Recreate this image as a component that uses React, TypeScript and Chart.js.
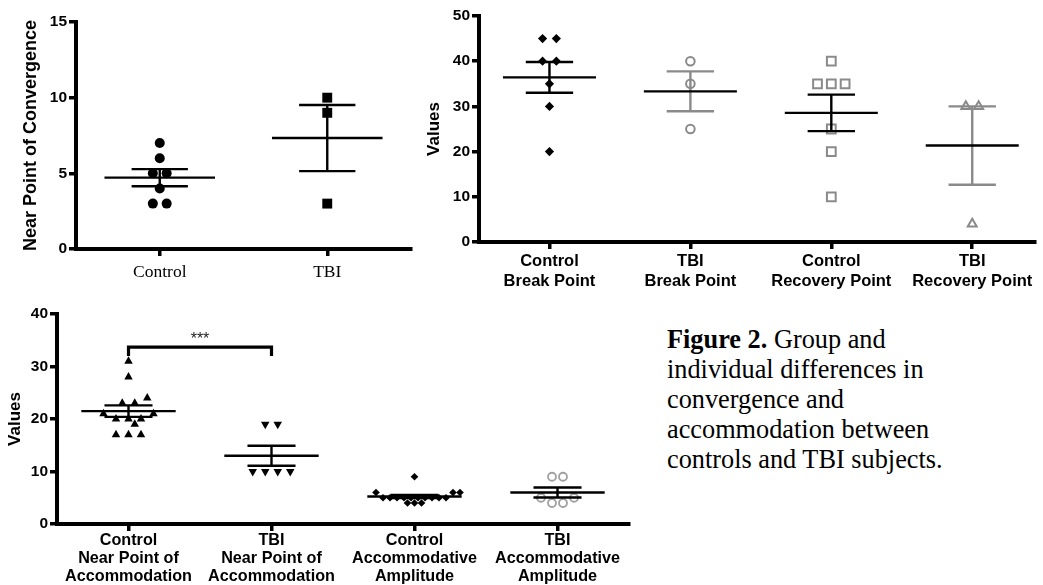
import React, { useEffect, useRef } from 'react';
import { Chart, registerables } from 'chart.js';

Chart.register(...registerables);

const SANS = '"Liberation Sans", Arial, Helvetica, sans-serif';
const SERIF = '"Liberation Serif", "Times New Roman", Times, serif';
const GRAY = '#8a8a8a';
const LIGHT_GRAY = '#a0a0a0';
const BLACK = '#000000';

// ---------- Panel A: Near point of convergence ----------
const npcCategories = ['Control', 'TBI'];
const npcControl = [7, 6, 5, 5, 4, 3, 3];
const npcTBI = [10, 9, 3];
const npcTicks = [0, 5, 10, 15];

// ---------- Panel B: break / recovery points ----------
const vergenceCategories = [
  ['Control', 'Break Point'],
  ['TBI', 'Break Point'],
  ['Control', 'Recovery Point'],
  ['TBI', 'Recovery Point'],
];
const controlBreakPoint = [45, 45, 40, 40, 35, 30, 20];
const tbiBreakPoint = [40, 35, 25];
const controlRecoveryPoint = [40, 35, 35, 35, 25, 20, 10];
const tbiRecoveryPoint = [30, 30, 4];
const vergenceTicks = [0, 10, 20, 30, 40, 50];

// ---------- Panel C: accommodation ----------
const accommodationCategories = [
  ['Control', 'Near Point of', 'Accommodation'],
  ['TBI', 'Near Point of', 'Accommodation'],
  ['Control', 'Accommodative', 'Amplitude'],
  ['TBI', 'Accommodative', 'Amplitude'],
];
const controlNPA = [31, 28, 24, 23, 23, 21, 21, 20, 20, 20, 19, 17, 17, 17];
const tbiNPA = [19, 19, 10, 10, 10, 10];
const controlAA = [9, 6, 6, 6, 5, 5, 5, 5, 5, 5, 5, 5, 5, 5, 4, 4, 4];
const tbiAA = [9, 9, 5, 5, 4, 4];
const accommodationTicks = [0, 10, 20, 30, 40];
const npaSignificance = { from: 0, to: 1, label: '***', top: 33.7, legEnd: 32 };

// Column scatter layout (GraphPad-like): largest tied groups first, centred;
// a group that would overlap lower-valued points is pushed sideways.
function beeswarm(
  values: number[],
  cat: number,
  stepPx: number,
  dPx: number,
  pxPerX: number,
  pxPerY: number
) {
  const counts = new Map<number, number>();
  values.forEach((v) => counts.set(v, (counts.get(v) || 0) + 1));
  const keys = Array.from(counts.keys()).sort((a, b) => {
    const c = (counts.get(b) || 0) - (counts.get(a) || 0);
    return c !== 0 ? c : a - b;
  });
  const placed: { v: number; off: number }[] = [];
  const collides = (v: number, off: number, pool: { v: number; off: number }[]) =>
    pool.some((p) => {
      const dx = off - p.off;
      const dy = (v - p.v) * pxPerY;
      return dx * dx + dy * dy < dPx * dPx - 0.01;
    });
  const offsets = new Map<number, number[]>();
  keys.forEach((v) => {
    const k = counts.get(v) || 1;
    const lower = placed.filter((p) => p.v < v);
    const centred = Array.from({ length: k }, (_, i) => (i - (k - 1) / 2) * stepPx);
    let chosen: number[] = [];
    if (!centred.some((o) => collides(v, o, lower))) {
      chosen = centred;
    } else {
      const h = stepPx / 2;
      const own: { v: number; off: number }[] = [];
      for (let i = 0; i < k; i++) {
        for (let j = 0; j < 400; j++) {
          const m = Math.ceil(j / 2);
          const o = (j % 2 === 1 ? 1 : -1) * m * h;
          if (!collides(v, o, lower) && !collides(v, o, own)) {
            own.push({ v, off: o });
            chosen.push(o);
            break;
          }
        }
      }
    }
    chosen.forEach((o) => placed.push({ v, off: o }));
    offsets.set(v, chosen.slice());
  });
  return values.map((v) => {
    const list = offsets.get(v) || [0];
    const o = list.shift() || 0;
    return { x: cat + o / pxPerX, y: v };
  });
}

function meanSem(values: number[]) {
  const n = values.length;
  const mean = values.reduce((a, b) => a + b, 0) / n;
  const sd = Math.sqrt(values.reduce((a, b) => a + (b - mean) ** 2, 0) / (n - 1));
  return { mean, sem: sd / Math.sqrt(n) };
}

type Group = {
  values: number[];
  cat: number;
  step: number;
  d: number;
  style: string;
  radius: number;
  rotation?: number;
  fill: string;
  stroke: string;
  borderWidth: number;
  errColor: string;
};

type Panel = {
  left: number;
  top: number;
  w: number;
  h: number;
  yAxisW: number;
  padTop: number;
  padRight: number;
  xAxisH: number;
  xMax: number;
  pxPerX: number;
  pxPerY: number;
  yTicks: number[];
  labels: (string | string[])[];
  xFont: any;
  xPad: number;
  title: string;
  titleX: number;
  titleFont: string;
  groups: Group[];
  bracket?: typeof npaSignificance;
};

function buildConfig(p: Panel): any {
  const errPlugin = {
    id: 'errbars',
    afterDatasetsDraw(chart: any) {
      const { ctx } = chart;
      const xs = chart.scales.x;
      const ys = chart.scales.y;
      p.groups.forEach((g) => {
        const { mean, sem } = meanSem(g.values);
        const cx = xs.getPixelForValue(g.cat);
        const hm = xs.getPixelForValue(g.cat + 0.33) - cx;
        const hc = xs.getPixelForValue(g.cat + 0.168) - cx;
        const ym = ys.getPixelForValue(mean);
        const yh = ys.getPixelForValue(mean + sem);
        const yl = ys.getPixelForValue(mean - sem);
        ctx.save();
        ctx.lineWidth = 2.4;
        ctx.lineCap = 'butt';
        ctx.strokeStyle = g.errColor;
        ctx.beginPath();
        ctx.moveTo(cx, yh);
        ctx.lineTo(cx, yl);
        ctx.moveTo(cx - hc, yh);
        ctx.lineTo(cx + hc, yh);
        ctx.moveTo(cx - hc, yl);
        ctx.lineTo(cx + hc, yl);
        ctx.stroke();
        ctx.strokeStyle = BLACK;
        ctx.beginPath();
        ctx.moveTo(cx - hm, ym);
        ctx.lineTo(cx + hm, ym);
        ctx.stroke();
        ctx.restore();
      });
      if (p.bracket) {
        const b = p.bracket;
        const x1 = xs.getPixelForValue(b.from);
        const x2 = xs.getPixelForValue(b.to);
        const yt = ys.getPixelForValue(b.top);
        const yb = ys.getPixelForValue(b.legEnd);
        ctx.save();
        ctx.strokeStyle = BLACK;
        ctx.lineWidth = 3.2;
        ctx.lineJoin = 'miter';
        ctx.beginPath();
        ctx.moveTo(x1, yb);
        ctx.lineTo(x1, yt);
        ctx.lineTo(x2, yt);
        ctx.lineTo(x2, yb);
        ctx.stroke();
        ctx.fillStyle = '#222';
        ctx.font = `16px ${SANS}`;
        ctx.textAlign = 'center';
        ctx.textBaseline = 'alphabetic';
        ctx.fillText(b.label, (x1 + x2) / 2, yt - 3);
        ctx.restore();
      }
    },
  };
  const titlePlugin = {
    id: 'ytitle',
    afterDraw(chart: any) {
      const { ctx, chartArea } = chart;
      ctx.save();
      ctx.translate(p.titleX, (chartArea.top + chartArea.bottom) / 2);
      ctx.rotate(-Math.PI / 2);
      ctx.font = p.titleFont;
      ctx.fillStyle = BLACK;
      ctx.textAlign = 'center';
      ctx.textBaseline = 'middle';
      ctx.fillText(p.title, 0, 0);
      ctx.restore();
    },
  };
  return {
    type: 'scatter',
    data: {
      datasets: p.groups.map((g) => ({
        data: beeswarm(g.values, g.cat, g.step, g.d, p.pxPerX, p.pxPerY),
        pointStyle: g.style,
        pointRadius: g.radius,
        pointHoverRadius: g.radius,
        pointRotation: g.rotation || 0,
        backgroundColor: g.fill,
        borderColor: g.stroke,
        borderWidth: g.borderWidth,
      })),
    },
    options: {
      responsive: false,
      animation: false,
      events: [],
      layout: { padding: { top: p.padTop, right: p.padRight, left: 0, bottom: 0 } },
      plugins: { legend: { display: false }, tooltip: { enabled: false } },
      scales: {
        x: {
          type: 'linear',
          min: -0.5,
          max: p.xMax,
          afterBuildTicks: (s: any) => {
            s.ticks = p.labels.map((_, i) => ({ value: i }));
          },
          afterFit: (s: any) => {
            s.height = p.xAxisH;
          },
          grid: { display: true, drawOnChartArea: false, drawTicks: true, tickLength: 7, lineWidth: 3.5, color: BLACK },
          border: { display: true, width: 4, color: BLACK },
          ticks: {
            autoSkip: false,
            maxRotation: 0,
            minRotation: 0,
            padding: p.xPad,
            color: BLACK,
            font: p.xFont,
            callback: (_v: any, i: number) => p.labels[i],
          },
        },
        y: {
          type: 'linear',
          min: 0,
          max: p.yTicks[p.yTicks.length - 1],
          afterBuildTicks: (s: any) => {
            s.ticks = p.yTicks.map((v) => ({ value: v }));
          },
          afterFit: (s: any) => {
            s.width = p.yAxisW;
          },
          grid: { display: true, drawOnChartArea: false, drawTicks: true, tickLength: 7, lineWidth: 3.5, color: BLACK },
          border: { display: true, width: 4, color: BLACK },
          ticks: {
            padding: 2,
            color: BLACK,
            font: { family: SANS, size: 15.5, weight: 'bold' },
            callback: (v: any) => String(v),
          },
        },
      },
    },
    plugins: [errPlugin, titlePlugin],
  };
}

const panelA: Panel = {
  left: 0, top: 0, w: 418, h: 295,
  yAxisW: 76, padTop: 22, padRight: 3, xAxisH: 46, xMax: 1.5,
  pxPerX: 169.5, pxPerY: 15.13,
  yTicks: npcTicks,
  labels: npcCategories,
  xFont: { family: SERIF, size: 17.5, weight: 'normal', lineHeight: 1.2 },
  xPad: 6,
  title: 'Near Point of Convergence', titleX: 31, titleFont: `bold 18px ${SANS}`,
  groups: [
    { values: npcControl, cat: 0, step: 14, d: 12, style: 'circle', radius: 5, fill: BLACK, stroke: BLACK, borderWidth: 0, errColor: BLACK },
    { values: npcTBI, cat: 1, step: 14, d: 12, style: 'rect', radius: 7, fill: BLACK, stroke: BLACK, borderWidth: 0, errColor: BLACK },
  ],
};

const panelB: Panel = {
  left: 420, top: 0, w: 623, h: 300,
  yAxisW: 59, padTop: 16, padRight: 0, xAxisH: 58, xMax: 3.444,
  pxPerX: 143, pxPerY: 4.52,
  yTicks: vergenceTicks,
  labels: vergenceCategories,
  xFont: { family: SANS, size: 16.5, weight: 'bold', lineHeight: 1.2 },
  xPad: 3,
  title: 'Values', titleX: 14, titleFont: `bold 17px ${SANS}`,
  groups: [
    { values: controlBreakPoint, cat: 0, step: 14, d: 12, style: 'rectRot', radius: 4.6, fill: BLACK, stroke: BLACK, borderWidth: 0, errColor: BLACK },
    { values: tbiBreakPoint, cat: 1, step: 14, d: 12, style: 'circle', radius: 4.3, fill: 'rgba(255,255,255,0)', stroke: GRAY, borderWidth: 2, errColor: GRAY },
    { values: controlRecoveryPoint, cat: 2, step: 14, d: 12, style: 'rect', radius: 6.2, fill: 'rgba(255,255,255,0)', stroke: GRAY, borderWidth: 2, errColor: BLACK },
    { values: tbiRecoveryPoint, cat: 3, step: 13, d: 11, style: 'triangle', radius: 5.2, fill: 'rgba(255,255,255,0)', stroke: GRAY, borderWidth: 2, errColor: GRAY },
  ],
};

const panelC: Panel = {
  left: 0, top: 295, w: 640, h: 290,
  yAxisW: 57, padTop: 19, padRight: 11, xAxisH: 61, xMax: 3.5,
  pxPerX: 143, pxPerY: 5.25,
  yTicks: accommodationTicks,
  labels: accommodationCategories,
  xFont: { family: SANS, size: 16.2, weight: 'bold', lineHeight: 1.09 },
  xPad: 1,
  title: 'Values', titleX: 15, titleFont: `bold 17px ${SANS}`,
  bracket: npaSignificance,
  groups: [
    { values: controlNPA, cat: 0, step: 12.5, d: 11, style: 'triangle', radius: 4.9, fill: BLACK, stroke: BLACK, borderWidth: 0, errColor: BLACK },
    { values: tbiNPA, cat: 1, step: 12.5, d: 11, style: 'triangle', radius: 4.9, rotation: 180, fill: BLACK, stroke: BLACK, borderWidth: 0, errColor: BLACK },
    { values: controlAA, cat: 2, step: 7, d: 6.5, style: 'rectRot', radius: 3.8, fill: BLACK, stroke: BLACK, borderWidth: 0, errColor: BLACK },
    { values: tbiAA, cat: 3, step: 11, d: 10, style: 'circle', radius: 4, fill: 'rgba(255,255,255,0)', stroke: LIGHT_GRAY, borderWidth: 1.8, errColor: BLACK },
  ],
};

function ChartPanel({ panel }: { panel: Panel }) {
  const ref = useRef<HTMLCanvasElement | null>(null);
  useEffect(() => {
    if (!ref.current) return;
    const chart = new Chart(ref.current, buildConfig(panel));
    return () => chart.destroy();
  }, [panel]);
  return (
    <canvas
      ref={ref}
      width={panel.w}
      height={panel.h}
      style={{ position: 'absolute', left: panel.left, top: panel.top, width: panel.w, height: panel.h }}
    />
  );
}

export default function App() {
  return (
    <div
      style={{
        position: 'fixed',
        left: 0,
        top: 0,
        width: 1043,
        height: 585,
        background: '#ffffff',
        overflow: 'hidden',
      }}
    >
      <ChartPanel panel={panelA} />
      <ChartPanel panel={panelB} />
      <ChartPanel panel={panelC} />
      <div
        style={{
          position: 'absolute',
          left: 667,
          top: 325,
          fontFamily: SERIF,
          fontSize: 26.3,
          lineHeight: '30px',
          color: '#000',
          whiteSpace: 'nowrap',
        }}
      >
        <b>Figure 2.</b> Group and
        <br />
        individual differences in
        <br />
        convergence and
        <br />
        accommodation between
        <br />
        controls and TBI subjects.
      </div>
    </div>
  );
}
